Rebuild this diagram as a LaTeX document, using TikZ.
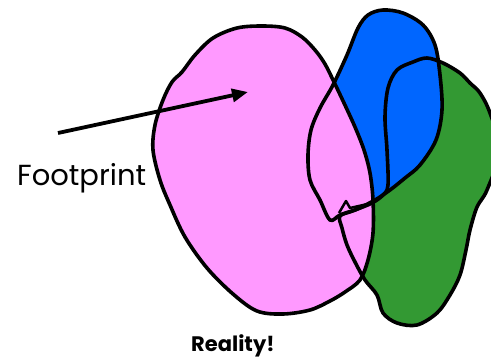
\documentclass[tikz,border=0pt]{standalone}
\usepackage{fontspec}
\setmainfont{Poppins}
\usetikzlibrary{arrows.meta}
\definecolor{pinkfill}{HTML}{FF99FF}
\definecolor{bluefill}{HTML}{0066FF}
\definecolor{greenfill}{HTML}{339933}
\tikzset{
  blobline/.style={draw=black, line width=3.6pt, line join=round, line cap=round},
  pointer/.style={line width=3.8pt, -{Triangle[length=16pt,width=13pt]}},
  label/.style={inner sep=0pt, anchor=base west}
}
\begin{document}
\begin{tikzpicture}[x=1pt,y=-1pt]
\useasboundingbox (0,0) rectangle (491,360);
\def\pinkpath{plot[smooth cycle, tension=0.55] coordinates {(262,26) (285,28) (302,37) (315,50) (325,64) (334,82) (344,103) (355,127) (364,150) (370,173) (373,200) (373,233) (368,260) (360,280) (345,292) (330,301) (310,310) (283,314) (257,311) (233,294) (207,268) (185,237) (170,205) (160,180) (153,150) (155,125) (163,100) (172,82) (182,72) (195,55) (213,38) (237,28)}}
\def\bluepath{plot[smooth cycle, tension=0.55] coordinates {(383,10) (403,13) (423,25) (435,45) (440,75) (442,110) (436,140) (420,165) (405,178) (390,190) (375,200) (355,210) (340,215) (330,220) (320,200) (310,180) (308,155) (311,130) (320,108) (333,85) (347,55) (358,28) (368,15)}}
\def\greenpath{plot[smooth cycle, tension=0.55] coordinates {(427,58) (443,63) (460,73) (470,83) (480,93) (490,113) (500,150) (487,190) (477,207) (470,230) (466,250) (460,275) (450,295) (437,313) (417,325) (397,323) (383,313) (377,295) (365,280) (355,262) (347,245) (342,228) (340,216) (355,210) (372,203) (383,195) (388,185) (387,150) (385,117) (388,88) (397,70) (413,62)}}
\begin{scope}
\clip (0,0) rectangle (491,360);
\fill[greenfill] \greenpath;
\fill[bluefill] \bluepath;
\fill[pinkfill] \pinkpath;
\draw[blobline] \greenpath;
\draw[blobline] \bluepath;
\draw[blobline] \pinkpath;
\draw[line width=2.5pt, line join=round] (339,213) -- (346,201) -- (350,208) -- (372,203);
\end{scope}
\coordinate (tail) at (58,133);
\coordinate (tip) at (248,92);
\draw[pointer] (tail) -- (tip);
\node[label, font=\fontsize{29}{34}\selectfont] (fp) at (17,185) {Footprint};
\node[label, font=\fontsize{21}{25}\selectfont\bfseries] (re) at (191,351) {Reality!};
\end{tikzpicture}
\end{document}
